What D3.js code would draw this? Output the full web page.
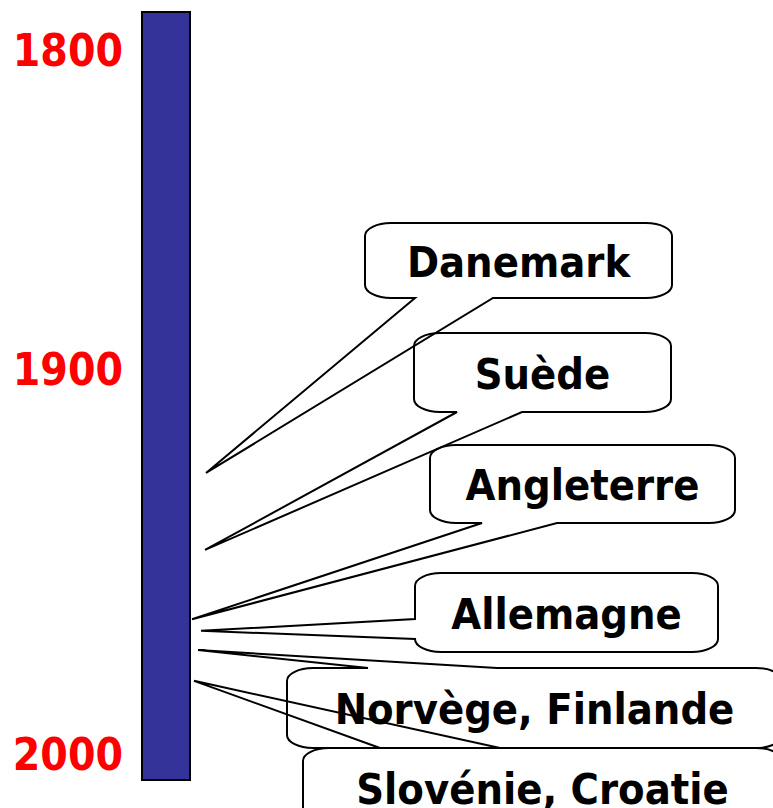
<!DOCTYPE html>
<html>
<head>
<meta charset="utf-8">
<script src="https://cdn.jsdelivr.net/npm/d3@7"></script>
<style>
  body { margin: 0; background: #fff; }
  text { font-family: 'DejaVu Sans Condensed', 'DejaVu Sans', sans-serif; font-weight: bold; font-stretch: condensed; }
</style>
</head>
<body>
<svg width="773" height="808"></svg>
<script>
// timeline ticks
const tickYears = [1800, 1900, 2000];
// countries and the year each callout points at
const countries = ["Danemark", "Suède", "Angleterre", "Allemagne", "Norvège, Finlande", "Slovénie, Croatie"];
const years = [1927, 1947, 1965, 1968, 1973, 1981];

// bubble layout (box, side the wedge leaves from, wedge base, tip x)
const boxes = [
  { x0: 365, y0: 223, x1: 672, y1: 298, side: "bottom", b: [415, 493], tipX: 206 },
  { x0: 414, y0: 333, x1: 671, y1: 412, side: "bottom", b: [457, 522], tipX: 205 },
  { x0: 430, y0: 445, x1: 735, y1: 523, side: "bottom", b: [482, 557], tipX: 192 },
  { x0: 415, y0: 573, x1: 718, y1: 652, side: "left",   b: [619, 639], tipX: 201 },
  { x0: 287, y0: 668, x1: 782, y1: 748, side: "top",    b: [368, 497], tipX: 198 },
  { x0: 303, y0: 748, x1: 782, y1: 828, side: "top",    b: [380, 500], tipX: 194 }
];

const svg = d3.select("svg");

// the slide's time axis isn't evenly spaced, so use a piecewise scale
let yScale = d3.scaleLinear()
    .domain(tickYears)
    .range([50, 369, 754]);

// the blue bar
svg.append("rect")
    .attr("x", 142)
    .attr("y", 12)
    .attr("width", 48)
    .attr("height", 768)
    .attr("fill", "#333399")
    .attr("stroke", "#000")
    .attr("stroke-width", 2);

svg.selectAll(".year")
    .data(tickYears)
    .enter()
    .append("text")
    .attr("class", "year")
    .attr("x", 123)
    .attr("y", d => yScale(d) + 16)
    .attr("text-anchor", "end")
    .attr("font-size", "44px")
    .attr("fill", "#ff0000")
    .text(d => d);

function callout(bx, tip) {
    const rx = 26, ry = 13;
    const { x0, y0, x1, y1, side, b } = bx;
    let p = `M${x0 + rx},${y0}`;
    if (side === "top") p += `H${b[0]}L${tip[0]},${tip[1]}L${b[1]},${y0}`;
    p += `H${x1 - rx}A${rx},${ry} 0 0 1 ${x1},${y0 + ry}`;
    p += `V${y1 - ry}A${rx},${ry} 0 0 1 ${x1 - rx},${y1}`;
    if (side === "bottom") p += `H${b[1]}L${tip[0]},${tip[1]}L${b[0]},${y1}`;
    p += `H${x0 + rx}A${rx},${ry} 0 0 1 ${x0},${y1 - ry}`;
    if (side === "left") p += `V${b[1]}L${tip[0]},${tip[1]}L${x0},${b[0]}`;
    p += `V${y0 + ry}A${rx},${ry} 0 0 1 ${x0 + rx},${y0}Z`;
    return p;
}

const items = countries.map((c, i) => ({ name: c, year: years[i], box: boxes[i] }));

let g = svg.selectAll(".callout")
    .data(items)
    .enter()
    .append("g")
    .attr("class", "callout");

g.append("path")
    .attr("d", d => callout(d.box, [d.box.tipX, yScale(d.year)]))
    .attr("fill", "none")
    .attr("stroke", "#000")
    .attr("stroke-width", 2)
    .attr("stroke-linejoin", "miter");

g.append("text")
    .attr("x", d => (d.box.x0 + d.box.x1) / 2)
    .attr("y", d => (d.box.y0 + d.box.y1) / 2 + 16)
    .attr("text-anchor", "middle")
    .attr("font-size", "43px")
    .attr("fill", "#000")
    .text(d => d.name);
</script>
</body>
</html>
